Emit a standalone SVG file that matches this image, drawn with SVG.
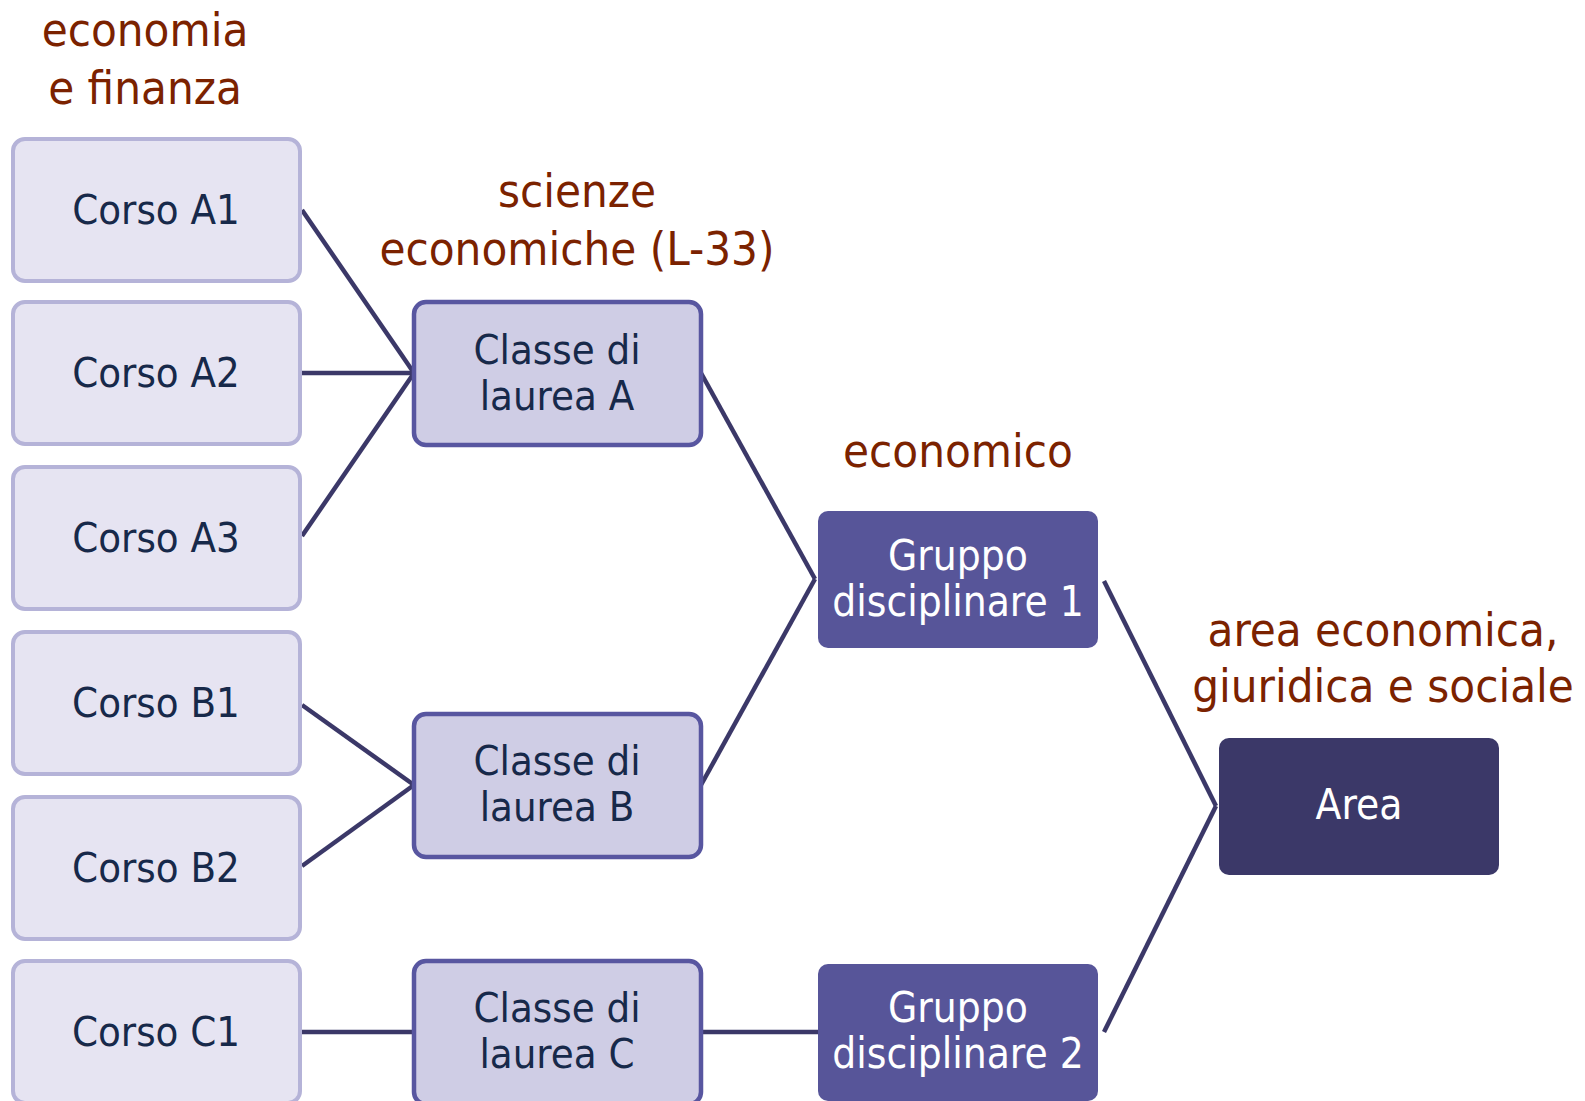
<svg xmlns="http://www.w3.org/2000/svg" width="1585" height="1101" viewBox="0 0 1585 1101">
<style>
.corso rect{fill:#e6e4f2;stroke:#b5b3d8;stroke-width:4}
.classe rect{fill:#cfcde5;stroke:#5856a0;stroke-width:4.5}
.gruppo rect{fill:#575599}
.area rect{fill:#3b3868}
text{font-family:"DejaVu Sans",sans-serif;font-stretch:condensed;text-anchor:middle}
.t{font-size:41.5px;fill:#17294a}
.w{font-size:42px;fill:#ffffff}
.lab{font-size:47px;fill:#7b2200}
#connectors line{stroke:#3b3868;stroke-width:4.5}
</style>
<g id="labels">
<text class="lab" x="145" y="46">economia</text>
<text class="lab" x="145" y="104">e finanza</text>
<text class="lab" x="577" y="207">scienze</text>
<text class="lab" x="577" y="265">economiche (L-33)</text>
<text class="lab" x="958" y="467">economico</text>
<text class="lab" x="1383" y="646">area economica,</text>
<text class="lab" x="1383" y="702">giuridica e sociale</text>
</g>
<g id="connectors">
<line x1="302" y1="210" x2="414" y2="373"/>
<line x1="302" y1="373" x2="414" y2="373"/>
<line x1="302" y1="536" x2="414" y2="373"/>
<line x1="302" y1="705" x2="414" y2="785"/>
<line x1="302" y1="866" x2="414" y2="785"/>
<line x1="302" y1="1032" x2="414" y2="1032"/>
<line x1="701" y1="1032" x2="818" y2="1032"/>
<line x1="701" y1="373" x2="815" y2="579"/>
<line x1="701" y1="785" x2="815" y2="579"/>
<line x1="1104" y1="581" x2="1216" y2="806"/>
<line x1="1104" y1="1032" x2="1216" y2="806"/>
</g>
<g id="corso-a1" class="corso"><rect x="13" y="139" width="287" height="142" rx="12"/><text class="t" x="156" y="224">Corso A1</text></g>
<g id="corso-a2" class="corso"><rect x="13" y="302" width="287" height="142" rx="12"/><text class="t" x="156" y="387">Corso A2</text></g>
<g id="corso-a3" class="corso"><rect x="13" y="467" width="287" height="142" rx="12"/><text class="t" x="156" y="552">Corso A3</text></g>
<g id="corso-b1" class="corso"><rect x="13" y="632" width="287" height="142" rx="12"/><text class="t" x="156" y="717">Corso B1</text></g>
<g id="corso-b2" class="corso"><rect x="13" y="797" width="287" height="142" rx="12"/><text class="t" x="156" y="882">Corso B2</text></g>
<g id="corso-c1" class="corso"><rect x="13" y="961" width="287" height="142" rx="12"/><text class="t" x="156" y="1046">Corso C1</text></g>
<g id="classe-a" class="classe"><rect x="414" y="302" width="287" height="143" rx="12"/><text class="t" x="557" y="364">Classe di</text><text class="t" x="557" y="410">laurea A</text></g>
<g id="classe-b" class="classe"><rect x="414" y="714" width="287" height="143" rx="12"/><text class="t" x="557" y="775">Classe di</text><text class="t" x="557" y="821">laurea B</text></g>
<g id="classe-c" class="classe"><rect x="414" y="961" width="287" height="143" rx="12"/><text class="t" x="557" y="1022">Classe di</text><text class="t" x="557" y="1068">laurea C</text></g>
<g id="gruppo-1" class="gruppo"><rect x="818" y="511" width="280" height="137" rx="10"/><text class="w" x="958" y="570">Gruppo</text><text class="w" x="958" y="616">disciplinare 1</text></g>
<g id="gruppo-2" class="gruppo"><rect x="818" y="964" width="280" height="137" rx="10"/><text class="w" x="958" y="1022">Gruppo</text><text class="w" x="958" y="1068">disciplinare 2</text></g>
<g id="area" class="area"><rect x="1219" y="738" width="280" height="137" rx="10"/><text class="w" x="1359" y="819">Area</text></g>
</svg>
